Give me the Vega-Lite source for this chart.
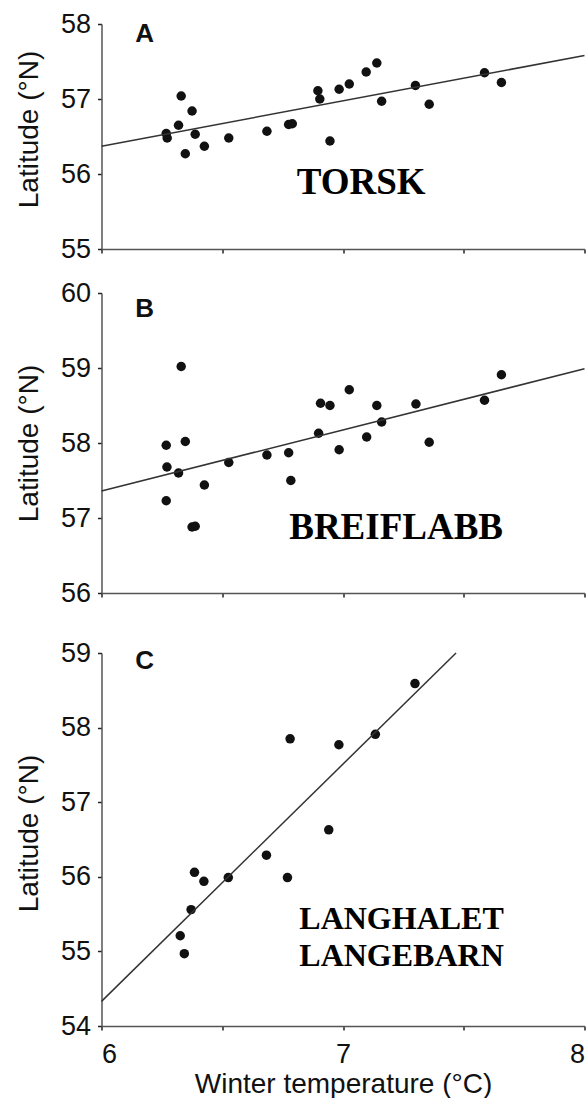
{
  "$schema": "https://vega.github.io/schema/vega-lite/v6.json",
  "padding": {"left": 14.5, "top": 10, "right": 0, "bottom": 0},
  "background": "white",
  "datasets": {
    "torsk": [
      {"temp": 6.268, "lat": 56.54}, {"temp": 6.272, "lat": 56.48}, {"temp": 6.319, "lat": 56.65}, {"temp": 6.33, "lat": 57.04},
      {"temp": 6.347, "lat": 56.27}, {"temp": 6.375, "lat": 56.84}, {"temp": 6.388, "lat": 56.53}, {"temp": 6.426, "lat": 56.37},
      {"temp": 6.527, "lat": 56.48}, {"temp": 6.685, "lat": 56.57}, {"temp": 6.775, "lat": 56.66}, {"temp": 6.79, "lat": 56.67},
      {"temp": 6.896, "lat": 57.11}, {"temp": 6.904, "lat": 57.0}, {"temp": 6.946, "lat": 56.44}, {"temp": 6.984, "lat": 57.13},
      {"temp": 7.026, "lat": 57.2}, {"temp": 7.096, "lat": 57.36}, {"temp": 7.14, "lat": 57.48}, {"temp": 7.16, "lat": 56.97},
      {"temp": 7.3, "lat": 57.18}, {"temp": 7.357, "lat": 56.93}, {"temp": 7.586, "lat": 57.35}, {"temp": 7.656, "lat": 57.22}
    ],
    "torsk_fit": [{"temp": 6, "lat": 56.37}, {"temp": 8, "lat": 57.58}],
    "breiflabb": [
      {"temp": 6.268, "lat": 57.97}, {"temp": 6.271, "lat": 57.68}, {"temp": 6.268, "lat": 57.23}, {"temp": 6.319, "lat": 57.6},
      {"temp": 6.33, "lat": 59.02}, {"temp": 6.347, "lat": 58.02}, {"temp": 6.375, "lat": 56.88}, {"temp": 6.388, "lat": 56.89},
      {"temp": 6.426, "lat": 57.44}, {"temp": 6.527, "lat": 57.74}, {"temp": 6.685, "lat": 57.84}, {"temp": 6.775, "lat": 57.87},
      {"temp": 6.784, "lat": 57.5}, {"temp": 6.899, "lat": 58.13}, {"temp": 6.907, "lat": 58.53}, {"temp": 6.946, "lat": 58.5},
      {"temp": 6.984, "lat": 57.91}, {"temp": 7.026, "lat": 58.71}, {"temp": 7.098, "lat": 58.08}, {"temp": 7.14, "lat": 58.5},
      {"temp": 7.16, "lat": 58.28}, {"temp": 7.302, "lat": 58.52}, {"temp": 7.357, "lat": 58.01}, {"temp": 7.586, "lat": 58.57},
      {"temp": 7.656, "lat": 58.91}
    ],
    "breiflabb_fit": [{"temp": 6, "lat": 57.36}, {"temp": 8, "lat": 58.99}],
    "langhalet": [
      {"temp": 6.326, "lat": 55.21}, {"temp": 6.343, "lat": 54.97}, {"temp": 6.371, "lat": 55.56}, {"temp": 6.385, "lat": 56.06},
      {"temp": 6.424, "lat": 55.94}, {"temp": 6.525, "lat": 55.99}, {"temp": 6.683, "lat": 56.29}, {"temp": 6.77, "lat": 55.99},
      {"temp": 6.781, "lat": 57.85}, {"temp": 6.941, "lat": 56.63}, {"temp": 6.983, "lat": 57.77}, {"temp": 7.134, "lat": 57.91},
      {"temp": 7.298, "lat": 58.59}
    ],
    "langhalet_fit": [{"temp": 6, "lat": 54.33}, {"temp": 7.468, "lat": 59.0}]
  },
  "config": {
    "view": {"stroke": null},
    "font": "Liberation Sans",
    "axis": {
      "grid": false,
      "domainColor": "#555",
      "domainWidth": 1.5,
      "tickColor": "#222",
      "tickWidth": 1.5,
      "tickSize": 4,
      "format": "d",
      "labelFont": "Liberation Sans",
      "labelFontSize": 27,
      "labelColor": "#111",
      "titleFont": "Liberation Sans",
      "titleFontSize": 28,
      "titleFontWeight": "normal",
      "titleColor": "#111"
    },
    "axisY": {"labelPadding": 7, "titlePadding": 17}
  },
  "vconcat": [
    {
      "vconcat": [
        {
          "width": 483, "height": 225,
          "layer": [
            {
              "data": {"name": "torsk"},
              "mark": {"type": "circle", "size": 90, "color": "#111", "opacity": 1},
              "encoding": {
                "x": {"field": "temp", "type": "quantitative", "scale": {"domain": [6, 8], "nice": false, "zero": false},
                      "axis": {"values": [6, 6.5, 7, 7.5, 8], "labels": false, "title": null}},
                "y": {"field": "lat", "type": "quantitative", "scale": {"domain": [55, 58], "nice": false, "zero": false},
                      "axis": {"values": [55, 56, 57, 58], "title": "Latitude (°N)", "titleY": 105}}
              }
            },
            {
              "data": {"name": "torsk_fit"},
              "mark": {"type": "line", "color": "#333", "strokeWidth": 1.5},
              "encoding": {"x": {"field": "temp", "type": "quantitative"}, "y": {"field": "lat", "type": "quantitative"}}
            },
            {
              "data": {"values": [{}]},
              "mark": {"type": "text", "text": "A", "font": "Liberation Sans", "fontWeight": "bold", "fontSize": 26, "align": "left", "baseline": "alphabetic", "color": "#111"},
              "encoding": {"x": {"datum": 6.14}, "y": {"datum": 57.76}}
            },
            {
              "data": {"values": [{}]},
              "mark": {"type": "text", "text": "TORSK", "font": "Liberation Serif", "fontWeight": "bold", "fontSize": 37, "align": "center", "baseline": "alphabetic", "color": "#000"},
              "encoding": {"x": {"datum": 7.075}, "y": {"datum": 55.737}}
            }
          ]
        },
        {
          "width": 483, "height": 300,
          "layer": [
            {
              "data": {"name": "breiflabb"},
              "mark": {"type": "circle", "size": 90, "color": "#111", "opacity": 1},
              "encoding": {
                "x": {"field": "temp", "type": "quantitative", "scale": {"domain": [6, 8], "nice": false, "zero": false},
                      "axis": {"values": [6, 6.5, 7, 7.5, 8], "labels": false, "title": null}},
                "y": {"field": "lat", "type": "quantitative", "scale": {"domain": [56, 60], "nice": false, "zero": false},
                      "axis": {"values": [56, 57, 58, 59, 60], "title": "Latitude (°N)"}}
              }
            },
            {
              "data": {"name": "breiflabb_fit"},
              "mark": {"type": "line", "color": "#333", "strokeWidth": 1.5},
              "encoding": {"x": {"field": "temp", "type": "quantitative"}, "y": {"field": "lat", "type": "quantitative"}}
            },
            {
              "data": {"values": [{}]},
              "mark": {"type": "text", "text": "B", "font": "Liberation Sans", "fontWeight": "bold", "fontSize": 26, "align": "left", "baseline": "alphabetic", "color": "#111"},
              "encoding": {"x": {"datum": 6.14}, "y": {"datum": 59.68}}
            },
            {
              "data": {"values": [{}]},
              "mark": {"type": "text", "text": "BREIFLABB", "font": "Liberation Serif", "fontWeight": "bold", "fontSize": 37, "align": "center", "baseline": "alphabetic", "color": "#000"},
              "encoding": {"x": {"datum": 7.22}, "y": {"datum": 56.724}}
            }
          ]
        }
      ],
      "spacing": 17
    },
    {
      "width": 483, "height": 373,
      "layer": [
        {
          "data": {"name": "langhalet"},
          "mark": {"type": "circle", "size": 90, "color": "#111", "opacity": 1},
          "encoding": {
            "x": {"field": "temp", "type": "quantitative", "scale": {"domain": [6, 8], "nice": false, "zero": false},
                  "axis": {"values": [6, 6.5, 7, 7.5, 8], "labelExpr": "datum.value % 1 == 0 ? datum.label : ''", "labelPadding": 11, "titlePadding": 3, "title": "Winter temperature (°C)"}},
            "y": {"field": "lat", "type": "quantitative", "scale": {"domain": [54, 59], "nice": false, "zero": false},
                  "axis": {"values": [54, 55, 56, 57, 58, 59], "title": "Latitude (°N)", "titleY": 180}}
          }
        },
        {
          "data": {"name": "langhalet_fit"},
          "mark": {"type": "line", "color": "#333", "strokeWidth": 1.5},
          "encoding": {"x": {"field": "temp", "type": "quantitative"}, "y": {"field": "lat", "type": "quantitative"}}
        },
        {
          "data": {"values": [{}]},
          "mark": {"type": "text", "text": "C", "font": "Liberation Sans", "fontWeight": "bold", "fontSize": 26, "align": "left", "baseline": "alphabetic", "color": "#111"},
          "encoding": {"x": {"datum": 6.14}, "y": {"datum": 58.78}}
        },
        {
          "data": {"values": [{}]},
          "mark": {"type": "text", "text": "LANGHALET", "font": "Liberation Serif", "fontWeight": "bold", "fontSize": 32, "align": "left", "baseline": "alphabetic", "color": "#000"},
          "encoding": {"x": {"datum": 6.819}, "y": {"datum": 55.3}}
        },
        {
          "data": {"values": [{}]},
          "mark": {"type": "text", "text": "LANGEBARN", "font": "Liberation Serif", "fontWeight": "bold", "fontSize": 32, "align": "left", "baseline": "alphabetic", "color": "#000"},
          "encoding": {"x": {"datum": 6.819}, "y": {"datum": 54.8}}
        }
      ]
    }
  ],
  "spacing": 33
}
